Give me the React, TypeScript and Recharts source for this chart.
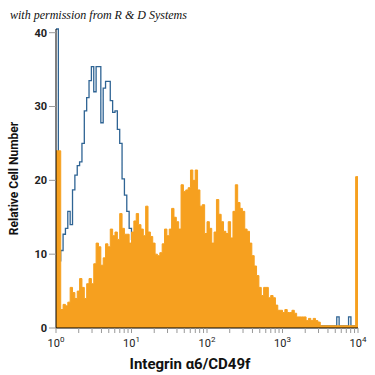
import React from "react";
import { ComposedChart, Area, XAxis, YAxis, Label } from "recharts";

// 128 log-spaced channels across 4 decades (10^0 .. 10^4)
const CHANNELS = 128;
const DECADES = 4;

// stained sample (orange, filled)
const stained = [
  24, 24, 2.5, 3.2, 3.0, 3.5, 5.5, 4.8, 4.0, 5.0,
  6.7, 5.5, 4.0, 6.0, 6.7, 6.0, 8.7, 11.5, 11.0, 8.5,
  9.5, 11.4, 11.0, 13.4, 12.5, 13.0, 12.0, 15.5, 13.5, 12.7,
  12.7, 11.5, 13.0, 14.5, 15.5, 14.0, 13.4, 12.5, 16.5, 13.0,
  12.4, 11.5, 10.0, 9.8, 10.2, 11.4, 13.4, 12.5, 13.4, 16.2,
  15.0, 14.4, 13.4, 19.4, 18.5, 18.7, 19.0, 21.4, 20.0, 21.4,
  18.7, 16.5, 16.7, 12.8, 14.4, 13.5, 11.5, 13.0, 17.4, 15.4,
  14.4, 13.1, 12.8, 14.4, 12.2, 15.8, 19.4, 17.0, 16.2, 15.8,
  13.4, 13.1, 11.5, 9.8, 8.4, 7.1, 5.5, 4.4, 5.5, 5.5,
  4.1, 4.4, 4.1, 3.1, 2.4, 2.4, 2.1, 2.5, 2.1, 2.1,
  2.4, 2.0, 1.5, 1.5, 1.5, 1.5, 1.0, 1.3, 1.0, 1.3,
  1.0, 0.8, 0.3, 0.3, 0.3, 0.3, 0.3, 0.3, 0.3, 0.3,
  0.3, 0.3, 0.3, 0.3, 0.3, 0.3, 0.3, 20.5,
];

// isotype control (blue outline)
const isotype = [
  40.5, 9.1, 10.5, 12.7, 13.5, 15.8, 14.0, 18.7, 20.7, 22.0,
  22.5, 25.0, 29.4, 31.2, 33.5, 35.4, 32.0, 35.4, 35.4, 27.8,
  32.5, 33.4, 33.4, 30.8, 29.2, 29.4, 26.9, 25.0, 20.2, 18.0,
  15.8, 13.5, 12.0, 12.7, 11.0, 9.0, 8.0, 7.0, 6.0, 5.0,
  4.5, 4.0, 3.5, 3.2, 3.0, 2.8, 2.6, 2.4, 2.2, 2.0,
  2.0, 1.8, 1.6, 1.5, 1.4, 1.3, 1.2, 1.1, 1.0, 1.0,
  0.8, 0.8, 0.8, 0.8, 0.8, 0.8, 0.8, 0.8, 0.8, 0.8,
  0.6, 0.6, 0.6, 0.6, 0.6, 0.6, 0.6, 0.6, 0.6, 0.6,
  0.5, 0.5, 0.5, 0.5, 0.5, 0.5, 0.5, 0.5, 0.5, 0.5,
  0.4, 0.4, 0.4, 0.4, 0.4, 0.4, 0.4, 0.4, 0.4, 0.4,
  0.3, 0.3, 0.3, 0.3, 0.3, 0.3, 0.3, 0.3, 0.3, 0.3,
  0.3, 0.3, 0.3, 0.3, 0.3, 0.3, 0.3, 0.3, 0.3, 1.5,
  0.3, 0.3, 0.3, 0.3, 1.5, 0.3, 0.3, 0.3,
];

const majorTicks = [0, 1, 2, 3, 4];
const minorMultipliers = [2, 3, 4, 5, 6, 7, 8, 9];
const yTicks = [0, 10, 20, 30, 40];

const data = stained.map((v, i) => ({
  x: (i * DECADES) / CHANNELS,
  stained: v,
  isotype: isotype[i],
}));
// closing point so the last channel has width
data.push({ x: DECADES, stained: stained[CHANNELS - 1], isotype: isotype[CHANNELS - 1] });

const xTicks: number[] = [];
majorTicks.forEach((d) => {
  xTicks.push(d);
  if (d < DECADES) minorMultipliers.forEach((m) => xTicks.push(d + Math.log10(m)));
});

const font = "Roboto, 'Liberation Sans', sans-serif";

const DecadeTick = (props: any) => {
  const { x, y, payload } = props;
  const v = payload.value;
  if (!majorTicks.includes(v)) return <g />;
  return (
    <text x={x} y={y} dy={12} textAnchor="middle" fontFamily={font} fontSize={11} fill="#222">
      <tspan>10</tspan>
      <tspan dy={-5} fontSize={8}>{v}</tspan>
    </text>
  );
};

export default function App() {
  return (
    <div style={{ position: "absolute", left: 0, top: 0, width: 375, height: 375, background: "#fff" }}>
      <div
        style={{
          position: "absolute",
          left: 10,
          top: 8,
          fontFamily: "'Liberation Serif', serif",
          fontStyle: "italic",
          fontSize: 12,
          color: "#111",
          zIndex: 2,
        }}
      >
        with permission from R &amp; D Systems
      </div>
      <ComposedChart width={375} height={375} data={data} margin={{ top: 29, right: 17, bottom: 0, left: 0 }}>
        <XAxis
          dataKey="x"
          type="number"
          domain={[0, DECADES]}
          ticks={xTicks}
          interval={0}
          tick={<DecadeTick />}
          tickSize={5}
          tickLine={{ stroke: "#999" }}
          axisLine={{ stroke: "#000" }}
          height={47}
        >
          <Label
            content={() => (
              <text
                x={190}
                y={369}
                textAnchor="middle"
                fontFamily={font}
                fontWeight={700}
                fontSize={15}
                fill="#111"
              >
                Integrin α6/CD49f
              </text>
            )}
          />
        </XAxis>
        <YAxis
          type="number"
          domain={[0, 40]}
          ticks={yTicks}
          interval={0}
          width={56}
          tickSize={7}
          tickLine={{ stroke: "#999" }}
          axisLine={{ stroke: "#000" }}
          tick={{ fontFamily: font, fontSize: 11, fontWeight: 700, fill: "#222" }}
        >
          <Label
            value="Relative Cell Number"
            angle={-90}
            position="insideLeft"
            offset={14}
            style={{ textAnchor: "middle", fontFamily: font, fontWeight: 700, fontSize: 12, fill: "#111" }}
          />
        </YAxis>
        <Area
          type="stepAfter"
          dataKey="isotype"
          stroke="#2f6494"
          strokeWidth={1.3}
          fill="none"
          dot={false}
          activeDot={false}
          isAnimationActive={false}
        />
        <Area
          type="stepAfter"
          dataKey="stained"
          stroke="#F6A01F"
          strokeWidth={1}
          fill="#F6A01F"
          fillOpacity={1}
          dot={false}
          activeDot={false}
          isAnimationActive={false}
        />
      </ComposedChart>
    </div>
  );
}
